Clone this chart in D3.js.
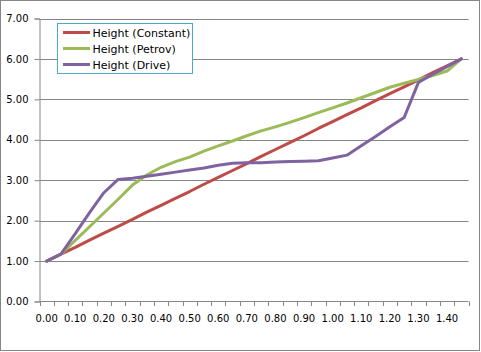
<!DOCTYPE html>
<html><head><meta charset="utf-8">
<script src="https://cdn.jsdelivr.net/npm/d3@7/dist/d3.min.js"></script>
<style>
html,body{margin:0;padding:0;background:#fff;}
svg{display:block;}
text{font-family:"DejaVu Sans",Verdana,sans-serif;font-size:10px;fill:#000;}
</style></head>
<body>
<script>
const categories = ["0.00","0.05","0.10","0.15","0.20","0.25","0.30","0.35","0.40","0.45",
  "0.50","0.55","0.60","0.65","0.70","0.75","0.80","0.85","0.90","0.95",
  "1.00","1.05","1.10","1.15","1.20","1.25","1.30","1.35","1.40","1.45"];
const heightConstant = [1.00,1.17,1.34,1.52,1.69,1.86,2.03,2.21,2.38,2.55,
  2.72,2.90,3.07,3.24,3.41,3.59,3.76,3.93,4.10,4.28,
  4.45,4.62,4.79,4.97,5.14,5.31,5.48,5.66,5.83,6.00];
const heightPetrov = [1.00,1.17,1.51,1.85,2.19,2.53,2.88,3.13,3.32,3.46,
  3.57,3.72,3.85,3.97,4.10,4.22,4.32,4.43,4.55,4.67,
  4.79,4.91,5.04,5.17,5.30,5.40,5.49,5.59,5.70,6.00];
const heightDrive = [1.00,1.17,1.68,2.20,2.69,3.02,3.05,3.10,3.15,3.20,
  3.25,3.30,3.37,3.42,3.43,3.43,3.45,3.46,3.47,3.48,
  3.55,3.62,3.85,4.08,4.32,4.55,5.42,5.62,5.81,6.00];
const yTicks = [0,1,2,3,4,5,6,7];
const xLabels = ["0.00","0.10","0.20","0.30","0.40","0.50","0.60","0.70","0.80","0.90","1.00","1.10","1.20","1.30","1.40"];
const seriesNames = ["Height (Constant)","Height (Petrov)","Height (Drive)"];
const seriesColors = ["#be4b48","#9bbb59","#7f63a1"];

const W = 481, H = 352;
const svg = d3.select("body").append("svg").attr("width", W).attr("height", H);

svg.append("rect").attr("x",0.5).attr("y",0.5).attr("width",W-2).attr("height",H-2)
  .attr("fill","#fff").attr("stroke","#868686");

const x = d3.scaleBand().domain(categories).range([39.5, 468.5]).paddingInner(0).paddingOuter(0);
const y = d3.scaleLinear().domain([0,7]).range([301.5, 18.5]);

// gridlines
svg.append("g").selectAll("line").data(yTicks.filter(d=>d>0)).join("line")
  .attr("x1", 39.5).attr("x2", 468.5)
  .attr("y1", d=>Math.round(y(d))+0.5).attr("y2", d=>Math.round(y(d))+0.5)
  .attr("stroke","#868686").attr("stroke-width",1);

// y axis
const yAxis = d3.axisLeft(y).tickValues(yTicks).tickFormat(d3.format(".2f")).tickSize(5).tickPadding(6);
const gy = svg.append("g").attr("transform","translate(39.5,0)").call(yAxis);
gy.select(".domain").attr("stroke","#868686");
gy.selectAll(".tick line").attr("stroke","#868686");
gy.selectAll("text").style("font-family","DejaVu Sans").style("font-size","10px").attr("fill","#000");

// x axis line
svg.append("line").attr("x1",39.5).attr("x2",468.5).attr("y1",301.5).attr("y2",301.5).attr("stroke","#868686");
// x ticks between categories
const bw = x.bandwidth();
const tickPos = categories.map(c => x(c)).concat([x(categories[categories.length-1]) + bw]);
svg.append("g").selectAll("line").data(tickPos).join("line")
  .attr("x1", d=>Math.round(d)+0.5).attr("x2", d=>Math.round(d)+0.5)
  .attr("y1",301.5).attr("y2",306)
  .attr("stroke","#868686");
// x labels
svg.append("g").selectAll("text").data(xLabels).join("text")
  .attr("x", d=>x(d)+bw/2).attr("y", 322)
  .attr("text-anchor","middle").text(d=>d);

// lines
const series = [heightConstant, heightPetrov, heightDrive];
const line = d3.line().x((d,i)=>x(categories[i])+bw/2).y(d=>y(d));
series.forEach((s,k)=>{
  svg.append("path").datum(s).attr("d", line)
    .attr("fill","none").attr("stroke", seriesColors[k]).attr("stroke-width",3)
    .attr("stroke-linejoin","round").attr("stroke-linecap","round");
});

// legend
const lg = svg.append("g");
lg.append("rect").attr("x",57.5).attr("y",23.5).attr("width",135).attr("height",50)
  .attr("fill","#fff").attr("stroke","#4bacc6");
seriesNames.forEach((n,k)=>{
  const yy = 32.5 + k*16;
  lg.append("line").attr("x1",63).attr("x2",90).attr("y1",yy).attr("y2",yy)
    .attr("stroke",seriesColors[k]).attr("stroke-width",3);
  lg.append("text").attr("x",92.5).attr("y",yy+4).style("font-size","11px").text(n);
});
</script>
</body></html>
